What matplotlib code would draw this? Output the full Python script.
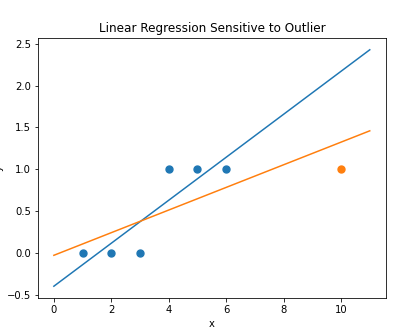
import matplotlib
matplotlib.use("Agg")
import matplotlib.pyplot as plt

# inliers and the single outlier
x_in = [1, 2, 3, 4, 5, 6]
y_in = [0, 0, 0, 1, 1, 1]
x_out = [10]
y_out = [1]

# fitted lines, evaluated at the ends of the x range
line_x = [0, 11]
fit_inliers = [-0.40, 2.43]
fit_with_outlier = [-0.03, 1.46]

scale = 0.72
plt.rcParams['font.size'] = 10 * scale
plt.rcParams['axes.titlesize'] = 12 * scale
plt.rcParams['axes.linewidth'] = 0.8 * scale
plt.rcParams['xtick.major.size'] = 3.5 * scale
plt.rcParams['ytick.major.size'] = 3.5 * scale
plt.rcParams['xtick.major.width'] = 0.8 * scale
plt.rcParams['ytick.major.width'] = 0.8 * scale
plt.rcParams['xtick.major.pad'] = 3.5 * scale
plt.rcParams['ytick.major.pad'] = 3.5 * scale

fig = plt.figure(figsize=(4.05, 3.33), dpi=100)
ax = fig.add_axes([0.094, 0.105, 0.858, 0.781])

ax.scatter(x_in, y_in, s=25)
ax.plot(line_x, fit_inliers, lw=1.5 * scale)
ax.scatter(x_out, y_out, s=25)
ax.plot(line_x, fit_with_outlier, lw=1.5 * scale)

ax.set_title("Linear Regression Sensitive to Outlier", pad=6 * scale)
ax.set_xlabel("x", labelpad=4 * scale)
ax.set_ylabel("y")
ax.yaxis.set_label_coords(-0.10, 0.5)

fig.savefig("out.png", dpi=100)
